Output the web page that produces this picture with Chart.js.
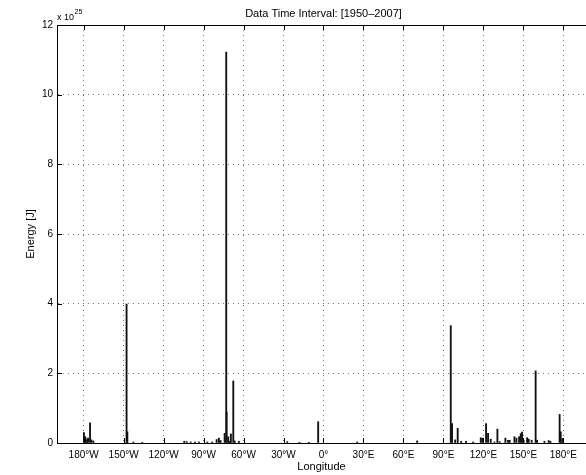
<!DOCTYPE html>
<html>
<head>
<meta charset="utf-8">
<script src="https://cdn.jsdelivr.net/npm/chart.js@4.4.0/dist/chart.umd.min.js"></script>
<style>
  html, body { margin: 0; padding: 0; background: #fff; }
</style>
</head>
<body>
<canvas id="energyChart" width="586" height="475"></canvas>
<script>
// longitude of each bin (deg, west negative) and released energy (x 10^25 J)
const longitudes = [
  -179.8, -178.7, -177.5, -176.7, -175.2, -174.2, -172.7,
  -147.8, -147.2, -142.7, -136,
  -104.5, -102.7, -99.7, -96.5, -93.5, -87.2, -83.5,
  -80.2, -78.5, -77.2, -74.2, -73.0, -72.7, -71.5, -70.7, -69.5, -67.7, -66.7, -63.5,
  -27.2, -18, -11, -4,
  25.3, 70.3,
  95.5, 96.5, 98.8, 100.7, 103.3, 107, 112.3,
  118, 119.3, 122, 123.5, 125.5, 128.3, 130.5, 132.2,
  136.5, 138.5, 139.7, 143.3, 144.8, 146.8, 148, 149, 150.2,
  152.8, 154, 156.2, 159.2, 160.3, 165.8, 169, 170.3,
  177.2, 178, 179.3
];
const energies = [
  0.30, 0.18, 0.10, 0.14, 0.58, 0.09, 0.06,
  3.99, 0.32, 0.03, 0.02,
  0.05, 0.04, 0.03, 0.03, 0.03, 0.03, 0.03,
  0.10, 0.14, 0.07, 0.28, 11.22, 0.89, 0.18, 0.05, 0.26, 1.78, 0.06, 0.05,
  0.04, 0.02, 0.02, 0.61,
  0.03, 0.06,
  3.37, 0.56, 0.09, 0.42, 0.05, 0.05, 0.03,
  0.15, 0.14, 0.56, 0.28, 0.11, 0.03, 0.40, 0.04,
  0.14, 0.08, 0.08, 0.18, 0.14, 0.18, 0.27, 0.31, 0.08,
  0.15, 0.11, 0.08, 2.07, 0.08, 0.05, 0.07, 0.05,
  0.82, 0.32, 0.13
];
const lonTicks = [-180, -150, -120, -90, -60, -30, 0, 30, 60, 90, 120, 150, 180];
const lonTickLabels = ['180°W', '150°W', '120°W', '90°W', '60°W', '30°W', '0°', '30°E', '60°E', '90°E', '120°E', '150°E', '180°E'];
const energyTicks = [0, 2, 4, 6, 8, 10, 12];

const FONT = '"Liberation Sans", Arial, Helvetica, sans-serif';

// box top edge, inward ticks, title and exponent label like a MATLAB axes
const matlabFrame = {
  id: 'matlabFrame',
  afterDraw(chart) {
    const ctx = chart.ctx;
    const area = chart.chartArea;
    const xs = chart.scales.x;
    const ys = chart.scales.y;
    ctx.save();
    ctx.strokeStyle = '#000';
    ctx.lineWidth = 1;
    ctx.beginPath();
    ctx.moveTo(area.left, Math.round(area.top) + 0.5);
    ctx.lineTo(area.right, Math.round(area.top) + 0.5);
    lonTicks.forEach(v => {
      const px = Math.round(xs.getPixelForValue(v)) + 0.5;
      ctx.moveTo(px, area.bottom);
      ctx.lineTo(px, area.bottom - 5);
      ctx.moveTo(px, area.top);
      ctx.lineTo(px, area.top + 5);
    });
    energyTicks.forEach(v => {
      const py = Math.round(ys.getPixelForValue(v)) + 0.5;
      ctx.moveTo(area.left, py);
      ctx.lineTo(area.left + 5, py);
    });
    ctx.stroke();

    ctx.fillStyle = '#000';
    ctx.font = '11px ' + FONT;
    ctx.textAlign = 'center';
    ctx.textBaseline = 'alphabetic';
    ctx.fillText('Data Time Interval: [1950\u20132007]', xs.getPixelForValue(0), 17);

    ctx.textAlign = 'left';
    ctx.font = '9px ' + FONT;
    ctx.fillText('x 10', area.left, 19.5);
    const w = ctx.measureText('x 10').width;
    ctx.font = '7px ' + FONT;
    ctx.fillText('25', area.left + w + 0.5, 13.5);
    ctx.restore();
  }
};

const ctx = document.getElementById('energyChart').getContext('2d');
const energyChart = new Chart(ctx, {
  type: 'bar',
  data: {
    datasets: [{
      label: 'Energy',
      data: longitudes.map((lon, i) => ({ x: lon, y: energies[i] })),
      backgroundColor: '#111',
      borderWidth: 0,
      barThickness: 1.2
    }]
  },
  options: {
    responsive: false,
    animation: false,
    layout: { padding: { top: 25, right: 0, bottom: 0, left: 0 } },
    plugins: {
      legend: { display: false },
      tooltip: { enabled: false },
      title: { display: false }
    },
    scales: {
      x: {
        type: 'linear',
        min: -200,
        max: 197,
        offset: false,
        afterFit: scale => { scale.height = 32; },
        afterBuildTicks: scale => { scale.ticks = lonTicks.map(v => ({ value: v })); },
        grid: {
          offset: false,
          color: 'rgba(0,0,0,0.55)',
          drawTicks: false
        },
        border: { display: true, color: '#000', width: 1, dash: [1, 4] },
        ticks: {
          padding: 6,
          color: '#000',
          maxRotation: 0,
          autoSkip: false,
          font: { family: FONT, size: 10 },
          callback: value => lonTickLabels[lonTicks.indexOf(value)]
        },
        title: {
          display: true,
          text: 'Longitude',
          color: '#000',
          font: { family: FONT, size: 11 },
          padding: { top: 0, bottom: 1 }
        }
      },
      y: {
        min: 0,
        max: 12,
        afterFit: scale => { scale.width = 57; },
        afterBuildTicks: scale => { scale.ticks = energyTicks.map(v => ({ value: v })); },
        grid: {
          color: 'rgba(0,0,0,0.55)',
          drawTicks: false
        },
        border: { display: true, color: '#000', width: 1, dash: [1, 4] },
        ticks: {
          padding: 4,
          color: '#000',
          font: { family: FONT, size: 10 }
        },
        title: {
          display: true,
          text: 'Energy [J]',
          color: '#000',
          font: { family: FONT, size: 11 },
          padding: { top: 24, bottom: 0 }
        }
      }
    }
  },
  plugins: [matlabFrame]
});
</script>
</body>
</html>
